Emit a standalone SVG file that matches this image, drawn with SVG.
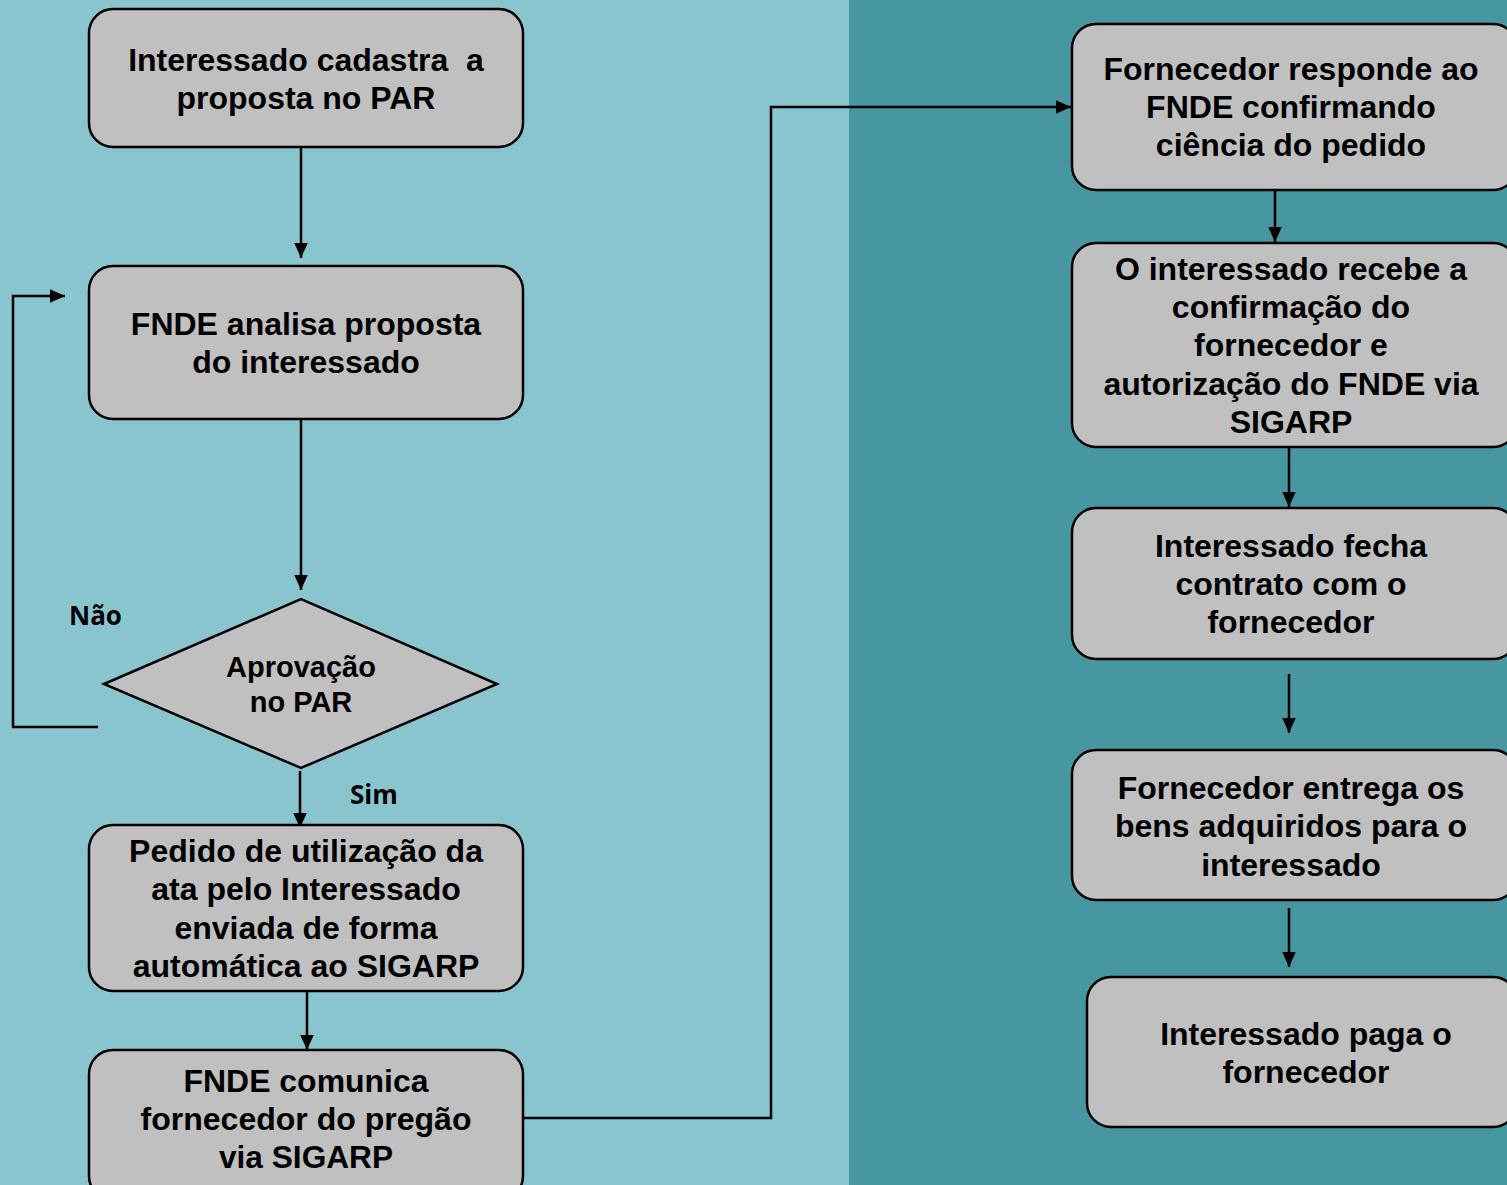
<svg xmlns="http://www.w3.org/2000/svg" width="1507" height="1185" viewBox="0 0 1507 1185">
<style>
.box{fill:#C0C0C0;stroke:#000;stroke-width:2.5}
.t{font-family:"Liberation Sans",Arial,sans-serif;font-weight:bold;font-size:32px;fill:#000;text-anchor:middle}
.d{font-size:29px}
.lbl{font-family:"Open Sans","Noto Sans",sans-serif;font-weight:bold;font-size:26px;fill:#000}
.c{fill:none;stroke:#000;stroke-width:2.5}
</style>
<defs>
<marker id="a" viewBox="0 0 10 10" refX="10" refY="5" markerWidth="15" markerHeight="15" markerUnits="userSpaceOnUse" orient="auto">
<path d="M0,0.5 L10,5 L0,9.5 z" fill="#000"/>
</marker>
</defs>
<rect x="0" y="0" width="849" height="1185" fill="#89C5CE"/>
<rect x="849" y="0" width="658" height="1185" fill="#46979F"/>

<g id="connectors">
<path class="c" d="M301,147 V258" marker-end="url(#a)"/>
<path class="c" d="M301,419 V590" marker-end="url(#a)"/>
<path class="c" d="M98,727 H13 V296 H65" marker-end="url(#a)"/>
<path class="c" d="M300,771 V828" marker-end="url(#a)"/>
<path class="c" d="M307,991 V1050" marker-end="url(#a)"/>
<path class="c" d="M523,1118 H771 V107 H1071" marker-end="url(#a)"/>
<path class="c" d="M1275,190 V242" marker-end="url(#a)"/>
<path class="c" d="M1289,447 V507" marker-end="url(#a)"/>
<path class="c" d="M1289,674 V733" marker-end="url(#a)"/>
<path class="c" d="M1289,908 V967" marker-end="url(#a)"/>
<text class="lbl" x="69" y="625">Não</text>
<text class="lbl" x="350" y="804">Sim</text>
</g>

<g id="n1">
<rect class="box" x="89" y="9" width="434" height="138" rx="24"/>
<text class="t" x="306" y="71" xml:space="preserve">Interessado cadastra  a</text>
<text class="t" x="306" y="109">proposta no PAR</text>
</g>
<g id="n2">
<rect class="box" x="89" y="266" width="434" height="153" rx="24"/>
<text class="t" x="306" y="335">FNDE analisa proposta</text>
<text class="t" x="306" y="373">do interessado</text>
</g>
<g id="n3">
<polygon class="box" points="104,684 301,599 497,684 301,768"/>
<text class="t d" x="301" y="677">Aprovação</text>
<text class="t d" x="301" y="712">no PAR</text>
</g>
<g id="n4">
<rect class="box" x="89" y="825" width="434" height="166" rx="24"/>
<text class="t" x="306" y="862">Pedido de utilização da</text>
<text class="t" x="306" y="900">ata pelo Interessado</text>
<text class="t" x="306" y="939">enviada de forma</text>
<text class="t" x="306" y="977">automática ao SIGARP</text>
</g>
<g id="n5">
<rect class="box" x="89" y="1050" width="434" height="150" rx="24"/>
<text class="t" x="306" y="1092" textLength="245" lengthAdjust="spacingAndGlyphs">FNDE comunica</text>
<text class="t" x="306" y="1130" textLength="331" lengthAdjust="spacingAndGlyphs">fornecedor do pregão</text>
<text class="t" x="306" y="1168" textLength="174" lengthAdjust="spacingAndGlyphs">via SIGARP</text>
</g>
<g id="n6">
<rect class="box" x="1072" y="24" width="445" height="166" rx="24"/>
<text class="t" x="1291" y="80">Fornecedor responde ao</text>
<text class="t" x="1291" y="118">FNDE confirmando</text>
<text class="t" x="1291" y="156">ciência do pedido</text>
</g>
<g id="n7">
<rect class="box" x="1072" y="243" width="445" height="204" rx="24"/>
<text class="t" x="1291" y="280">O interessado recebe a</text>
<text class="t" x="1291" y="318">confirmação do</text>
<text class="t" x="1291" y="356">fornecedor e</text>
<text class="t" x="1291" y="395">autorização do FNDE via</text>
<text class="t" x="1291" y="433">SIGARP</text>
</g>
<g id="n8">
<rect class="box" x="1072" y="508" width="445" height="151" rx="24"/>
<text class="t" x="1291" y="557">Interessado fecha</text>
<text class="t" x="1291" y="595">contrato com o</text>
<text class="t" x="1291" y="633">fornecedor</text>
</g>
<g id="n9">
<rect class="box" x="1072" y="750" width="445" height="150" rx="24"/>
<text class="t" x="1291" y="799">Fornecedor entrega os</text>
<text class="t" x="1291" y="837">bens adquiridos para o</text>
<text class="t" x="1291" y="876">interessado</text>
</g>
<g id="n10">
<rect class="box" x="1087" y="977" width="430" height="150" rx="24"/>
<text class="t" x="1306" y="1045">Interessado paga o</text>
<text class="t" x="1306" y="1083">fornecedor</text>
</g>
</svg>
